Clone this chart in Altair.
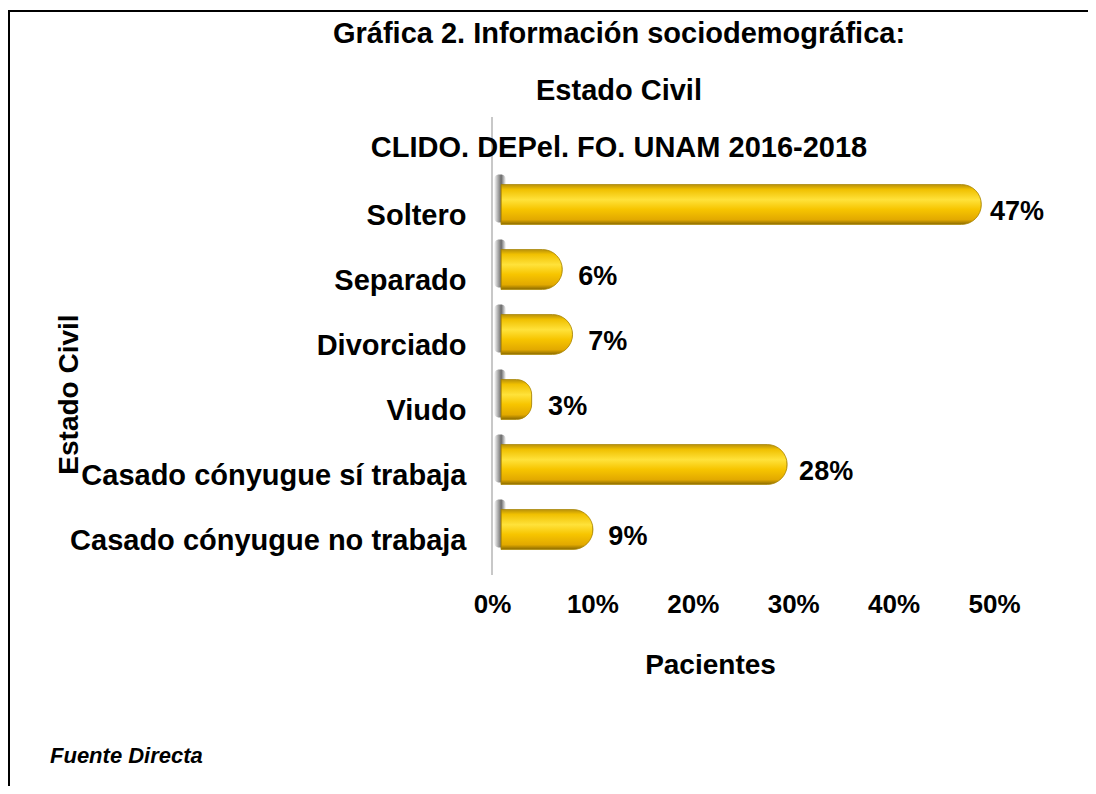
import altair as alt
import pandas as pd

# ---- data ----
categorias = ["Soltero", "Separado", "Divorciado", "Viudo",
              "Casado cónyugue sí trabaja", "Casado cónyugue no trabaja"]
porcentajes = [0.47, 0.06, 0.07, 0.03, 0.28, 0.09]
ticks_x = [0.0, 0.1, 0.2, 0.3, 0.4, 0.5]
titulo = ["Gráfica 2. Información sociodemográfica:",
          "Estado Civil",
          "CLIDO. DEPel. FO. UNAM 2016-2018"]
fuente = ["Fuente Directa"]

df = pd.DataFrame({"categoria": categorias, "valor": porcentajes})
df_fuente = pd.DataFrame({"texto": fuente})
one = pd.DataFrame({"k": [0]})

FONT = "Liberation Sans"

y_enc = alt.Y(
    "categoria:N", sort=categorias,
    scale=alt.Scale(paddingInner=0, paddingOuter=0),
    axis=alt.Axis(title="Estado Civil", ticks=False, domain=False, grid=False,
                  labelFontSize=29, labelFontWeight="bold", labelColor="black",
                  labelFont=FONT, labelPadding=26, labelLimit=600,
                  titleFontSize=28, titleFontWeight="bold", titleColor="black",
                  titleFont=FONT, titleX=-423, titleY=211, titleAngle=270,
                  titleBaseline="middle", titleAlign="center"),
)
x_axis = alt.Axis(title="Pacientes", values=ticks_x, format=".0%", ticks=False,
                  domain=False, grid=False, labelFontSize=26, labelFontWeight="bold",
                  labelColor="black", labelFont=FONT, labelPadding=18,
                  labelFlush=False,
                  titleFontSize=28, titleFontWeight="bold", titleColor="black",
                  titleFont=FONT, titleX=218, titleY=100,
                  titleBaseline="alphabetic", titleAlign="center")

gold = alt.Gradient(
    gradient="linear", x1=0, y1=0, x2=0, y2=1,
    stops=[
        alt.GradientStop(color="#b8900a", offset=0),
        alt.GradientStop(color="#f0c000", offset=0.12),
        alt.GradientStop(color="#ffe23a", offset=0.38),
        alt.GradientStop(color="#f7c500", offset=0.62),
        alt.GradientStop(color="#e2a900", offset=0.88),
        alt.GradientStop(color="#8a6a00", offset=1),
    ],
)
shadow_grad = alt.Gradient(
    gradient="linear", x1=0, y1=0, x2=1, y2=0,
    stops=[
        alt.GradientStop(color="#ffffff", offset=0),
        alt.GradientStop(color="#454545", offset=0.6),
        alt.GradientStop(color="#ffffff", offset=1),
    ],
)

base = alt.Chart(df)

shadow = base.mark_bar(size=48, yOffset=-17, color=shadow_grad, cornerRadius=5,
                       opacity=0.8).encode(
    y=y_enc, x=alt.value(2), x2=alt.value(14))

# bars drawn slightly offset in depth (3-D look): own x scale
bars = base.mark_bar(size=40, yOffset=-11, cornerRadiusEnd=20, color=gold,
                     stroke="#a88400", strokeWidth=0.8).encode(
    x=alt.X("valor:Q", scale=alt.Scale(domain=[0, 0.5], nice=False, range=[9, 520]),
            axis=None),
    y=y_enc)

labels = base.mark_text(align="left", baseline="middle", dx=26, dy=-4,
                        fontSize=27, fontWeight="bold", font=FONT,
                        color="black").encode(
    x=alt.X("valor:Q", scale=alt.Scale(domain=[0, 0.5], nice=False), axis=x_axis),
    y=y_enc,
    text=alt.Text("valor:Q", format=".0%"))

axis_rule = alt.Chart(one).mark_rule(color="#c8c8c8", strokeWidth=2).encode(
    x=alt.value(0), y=alt.value(-66), y2=alt.value(392))

border_top = alt.Chart(one).mark_rule(color="black", strokeWidth=2).encode(
    x=alt.value(-484), x2=alt.value(596), y=alt.value(-172))
border_left = alt.Chart(one).mark_rule(color="black", strokeWidth=2).encode(
    x=alt.value(-483), y=alt.value(-172), y2=alt.value(604))

nota = alt.Chart(df_fuente).mark_text(
    align="left", baseline="alphabetic", fontSize=22, fontWeight="bold",
    fontStyle="italic", font=FONT, color="black").encode(
    x=alt.value(-442), y=alt.value(580), text="texto:N")

chart = alt.layer(axis_rule, shadow, bars, labels, border_top, border_left, nota).resolve_scale(
    x="independent"
).properties(
    width=502, height=390,
    autosize=alt.AutoSizeParams(type="none"),
    padding={"left": 484, "top": 175, "right": 94, "bottom": 213},
    title=alt.TitleParams(text=titulo, fontSize=29, fontWeight="bold", font=FONT,
                          color="black", lineHeight=57, anchor="middle",
                          frame="group", baseline="bottom",
                          dx=-124, dy=202, offset=20),
).configure_view(stroke=None)

chart.save("out.html", embed_options={"renderer": "svg", "actions": False})
